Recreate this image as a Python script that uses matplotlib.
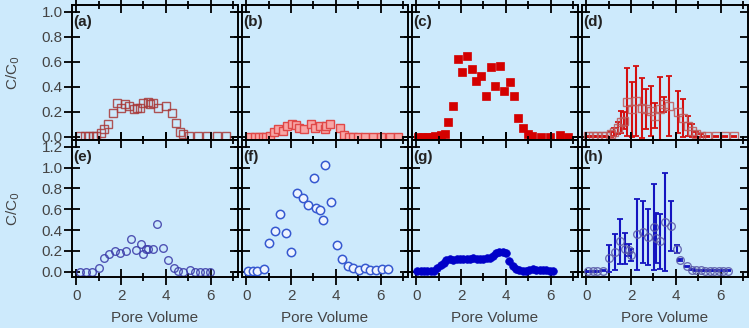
import matplotlib
matplotlib.use("Agg")
import matplotlib.pyplot as plt
from matplotlib.ticker import MultipleLocator, FormatStrFormatter

plt.rcParams["font.family"] = ["Liberation Sans", "DejaVu Sans"]

BG = "#cdeafc"

# ---- data (Pore Volume vs C/C0) ----
a_x = [0.19, 0.39, 0.57, 0.75, 0.9, 1.1, 1.25, 1.43, 1.62, 1.82, 2.0, 2.19, 2.37, 2.57, 2.72,
       2.86, 3.0, 3.2, 3.3, 3.42, 3.65, 4.02, 4.25, 4.45, 4.63, 4.77, 5.05, 5.45, 5.83, 6.27, 6.7]
a_y = [0.01, 0.01, 0.01, 0.01, 0.01, 0.03, 0.06, 0.10, 0.19, 0.27, 0.23, 0.26, 0.25, 0.22, 0.23,
       0.23, 0.27, 0.28, 0.26, 0.27, 0.23, 0.245, 0.19, 0.11, 0.04, 0.02, 0.01, 0.01, 0.01, 0.01, 0.01]

b_x = [0.19, 0.39, 0.57, 0.75, 0.9, 1.05, 1.24, 1.43, 1.64, 1.84, 2.03, 2.21, 2.36, 2.58, 2.88,
       3.08, 3.29, 3.53, 3.55, 3.74, 4.16, 4.38, 4.57, 4.75, 4.98, 5.28, 5.65, 6.02, 6.4, 6.77]
b_y = [0.0, 0.0, 0.0, 0.0, 0.0, 0.01, 0.04, 0.06, 0.045, 0.09, 0.105, 0.095, 0.07, 0.065, 0.1,
       0.07, 0.09, 0.06, 0.09, 0.1, 0.07, 0.015, 0.0, 0.0, 0.0, 0.0, 0.0, 0.0, 0.0, 0.0]

c_x = [0.1, 0.3, 0.5, 0.7, 0.85, 1.09, 1.27, 1.43, 1.65, 1.87, 2.06, 2.26, 2.47, 2.66, 2.88,
       3.11, 3.33, 3.53, 3.74, 3.93, 4.16, 4.35, 4.56, 4.75, 4.98, 5.17, 5.57, 5.98, 6.4, 6.77]
c_y = [0.0, 0.0, 0.0, 0.0, 0.005, 0.013, 0.02, 0.12, 0.25, 0.62, 0.52, 0.65, 0.54, 0.45, 0.49,
       0.33, 0.56, 0.41, 0.57, 0.37, 0.44, 0.325, 0.15, 0.07, 0.02, 0.01, 0.0, 0.0, 0.015, 0.0]

d_x = [0.1, 0.3, 0.5, 0.7, 0.9, 1.1, 1.25, 1.4, 1.55, 1.68, 1.84, 2.06, 2.24, 2.48, 2.66,
       2.88, 3.08, 3.29, 3.48, 3.68, 4.08, 4.3, 4.53, 4.7, 4.9, 5.1, 5.4, 5.8, 6.2, 6.6]
d_y = [0.005, 0.005, 0.005, 0.005, 0.005, 0.02, 0.04, 0.07, 0.12, 0.13, 0.28, 0.22, 0.29, 0.23, 0.22,
       0.21, 0.17, 0.22, 0.26, 0.25, 0.2, 0.15, 0.09, 0.05, 0.02, 0.01, 0.005, 0.005, 0.005, 0.005]
d_err = [0.004, 0.004, 0.004, 0.004, 0.004, 0.02, 0.03, 0.05, 0.09, 0.07, 0.27, 0.22, 0.28, 0.24, 0.16,
         0.2, 0.1, 0.26, 0.06, 0.24, 0.17, 0.15, 0.08, 0.05, 0.02, 0.01, 0.005, 0.005, 0.005, 0.005]

e_x = [0.18, 0.45, 0.7, 1.0, 1.23, 1.46, 1.71, 1.94, 2.21, 2.43, 2.66, 2.88, 3.0, 3.11, 3.21,
       3.41, 3.6, 3.86, 4.11, 4.34, 4.56, 4.76, 5.06, 5.28, 5.51, 5.73, 5.96]
e_y = [0.0, 0.0, 0.0, 0.04, 0.13, 0.17, 0.2, 0.18, 0.2, 0.31, 0.21, 0.27, 0.17, 0.22, 0.22,
       0.22, 0.46, 0.23, 0.11, 0.04, 0.01, 0.0, 0.02, 0.0, 0.0, 0.0, 0.0]

f_x = [0.1, 0.3, 0.5, 0.78, 1.03, 1.27, 1.52, 1.78, 2.01, 2.27, 2.52, 2.76, 3.01, 3.13, 3.28,
       3.41, 3.53, 3.79, 4.03, 4.28, 4.53, 4.77, 5.03, 5.28, 5.52, 5.77, 6.07, 6.3]
f_y = [0.007, 0.007, 0.007, 0.03, 0.28, 0.39, 0.55, 0.37, 0.19, 0.76, 0.71, 0.64, 0.9, 0.61, 0.59,
       0.5, 1.02, 0.67, 0.26, 0.12, 0.05, 0.04, 0.016, 0.04, 0.016, 0.016, 0.03, 0.03]

g_x = [0.05, 0.2, 0.35, 0.5, 0.65, 0.8, 0.95, 1.1, 1.22, 1.35, 1.5, 1.65, 1.8, 1.95, 2.1,
       2.25, 2.4, 2.55, 2.7, 2.85, 3.0, 3.15, 3.3, 3.42, 3.55, 3.7, 3.85, 4.0, 4.15, 4.3,
       4.45, 4.6, 4.75, 4.9, 5.05, 5.2, 5.35, 5.5, 5.65, 5.8, 5.95, 6.1]
g_y = [0.005, 0.005, 0.005, 0.005, 0.01, 0.01, 0.04, 0.06, 0.085, 0.11, 0.12, 0.115, 0.12, 0.12, 0.125,
       0.12, 0.125, 0.13, 0.125, 0.12, 0.125, 0.13, 0.135, 0.15, 0.18, 0.19, 0.19, 0.18, 0.1, 0.05,
       0.03, 0.015, 0.01, 0.01, 0.02, 0.025, 0.02, 0.02, 0.015, 0.02, 0.01, 0.005]

h_x = [0.1, 0.3, 0.5, 0.75, 1.0, 1.27, 1.52, 1.75, 1.89, 2.01, 2.27, 2.52, 2.76, 3.01, 3.13,
       3.28, 3.53, 3.79, 4.03, 4.18, 4.5, 4.7, 4.9, 5.1, 5.3, 5.5, 5.7, 5.9, 6.1, 6.3]
h_y = [0.005, 0.005, 0.005, 0.01, 0.13, 0.19, 0.29, 0.22, 0.21, 0.16, 0.36, 0.38, 0.33, 0.43, 0.32,
       0.29, 0.48, 0.44, 0.22, 0.11, 0.05, 0.02, 0.015, 0.015, 0.01, 0.01, 0.01, 0.01, 0.01, 0.01]
h_err = [0.005, 0.005, 0.005, 0.005, 0.13, 0.17, 0.22, 0.15, 0.06, 0.06, 0.34, 0.3, 0.27, 0.41, 0.24,
         0.26, 0.47, 0.24, 0.04, 0.01, 0.005, 0.005, 0.005, 0.005, 0.005, 0.005, 0.005, 0.005, 0.005, 0.005]

panel_labels = ["(a)", "(b)", "(c)", "(d)", "(e)", "(f)", "(g)", "(h)"]

W, H = 749.0, 328.0
fig = plt.figure(figsize=(W / 100, H / 100), dpi=100, facecolor=BG)


def make_axes(col, row):
    left = 71.7 + 170 * col
    if row == 0:
        bottom, height = 188.0, 135.0
    else:
        bottom, height = 51.3, 136.7
    ax = fig.add_axes([left / W, bottom / H, 166 / W, height / H])
    ax.set_facecolor(BG)
    ax.set_xlim(-0.2, 7.2)
    if row == 0:
        ax.set_ylim(-0.026, 1.054)
    else:
        ax.set_ylim(-0.048, 1.264)
    ax.xaxis.set_major_locator(MultipleLocator(2))
    ax.xaxis.set_minor_locator(MultipleLocator(1))
    ax.yaxis.set_major_locator(MultipleLocator(0.2))
    ax.yaxis.set_major_formatter(FormatStrFormatter("%.1f"))
    ax.tick_params(which="major", direction="inout", length=11, width=1.3,
                   top=True, right=True, labelsize=11, labelcolor="#444444", pad=1)
    ax.tick_params(which="minor", direction="inout", length=6, width=1.3, top=True, right=True)
    ax.tick_params(axis="x", which="major", pad=3)
    for sp in ax.spines.values():
        sp.set_linewidth(1.4)
        sp.set_color("black")
    if col != 0:
        ax.tick_params(labelleft=False)
    else:
        ax.set_ylabel("C/C$_0$", fontsize=11, color="#444444")
        ax.yaxis.set_label_coords(-0.30, 0.5)
    if row == 0:
        ax.tick_params(labelbottom=False)
    else:
        ax.set_xlabel("Pore Volume", fontsize=11, color="#444444")
        ax.xaxis.set_label_coords(0.5, -0.25)
    ax.text(0.01, 0.925, panel_labels[row * 4 + col], transform=ax.transAxes,
            ha="left", va="top", fontsize=11, fontweight="bold", color="#222222")
    return ax


ax = make_axes(0, 0)
ax.plot(a_x, a_y, "s", ms=5.5, mfc="none", mec="#a83838", mew=1.0, alpha=0.85)

ax = make_axes(1, 0)
ax.plot(b_x, b_y, "s", ms=5.5, mfc="#f7a6a6", mec="#e04848", mew=1.0)

ax = make_axes(2, 0)
ax.plot(c_x, c_y, "s", ms=6, mfc="#d40000", mec="#d40000", mew=0.5)

ax = make_axes(3, 0)
ax.errorbar(d_x, d_y, yerr=d_err, fmt="none", ecolor="#d41010", elinewidth=1.5,
            capsize=2.5, capthick=1.3)
ax.plot(d_x, d_y, "s", ms=5.5, mfc="none", mec="#c05858", mew=1.0, alpha=0.85)

ax = make_axes(0, 1)
ax.plot(e_x, e_y, "o", ms=5.5, mfc="none", mec="#3a3aa8", mew=1.0, alpha=0.85)

ax = make_axes(1, 1)
ax.plot(f_x, f_y, "o", ms=6, mfc="#eef4ff", mec="#3558d0", mew=1.1)

ax = make_axes(2, 1)
ax.plot(g_x, g_y, "o", ms=5.5, mfc="#0000c8", mec="#0000c8", mew=0.5)

ax = make_axes(3, 1)
ax.errorbar(h_x, h_y, yerr=h_err, fmt="none", ecolor="#1414c0", elinewidth=1.5,
            capsize=2.5, capthick=1.3)
ax.plot(h_x, h_y, "o", ms=5.5, mfc="none", mec="#5a5aa8", mew=1.0, alpha=0.85)

fig.savefig("out.png", dpi=100, facecolor=BG)
